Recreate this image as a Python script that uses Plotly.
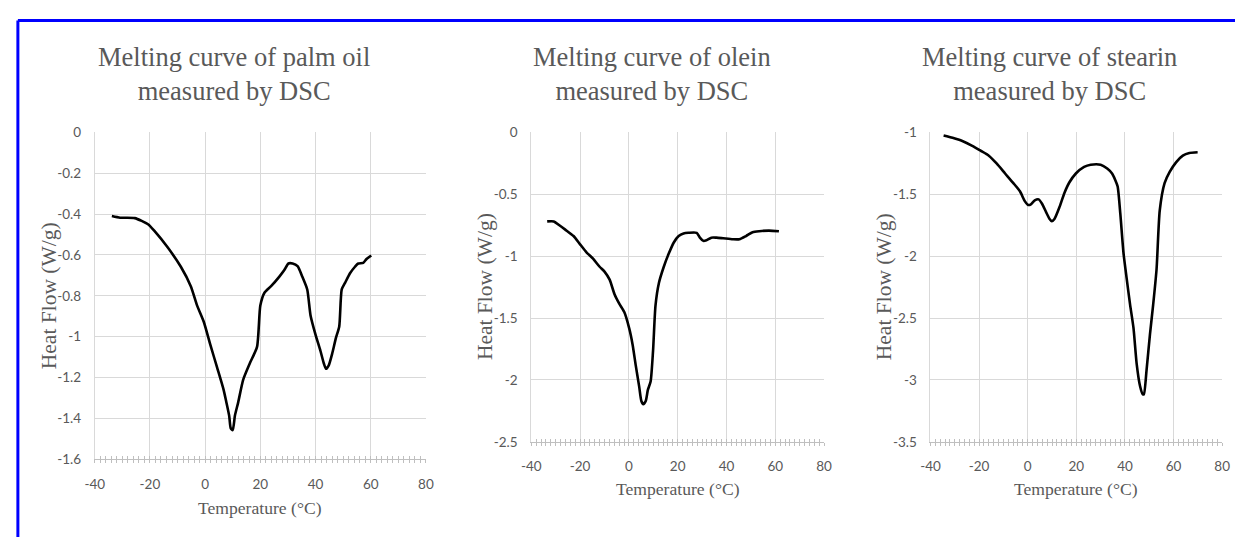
import plotly.graph_objects as go

# ---------------- data ----------------
palm_temp = [-33.8, -30.8, -25.5, -20.7, -18.3, -13.6, -8.8, -5.2, -2.9, -0.5, 1.9, 4.3, 6.7, 7.6, 8.7, 9.3,
             10.0, 10.8, 12.0, 13.8, 16.2, 18.8, 20.0, 21.5, 23.9, 26.9, 28.7, 30.2, 31.7, 33.5, 35.2, 37.0,
             38.2, 40.0, 41.8, 43.0, 43.8, 44.8, 46.0, 47.4, 48.6, 49.5, 50.7, 52.5, 54.3, 55.5, 57.3, 58.5, 60.2]
palm_flow = [-0.41, -0.418, -0.42, -0.45, -0.484, -0.563, -0.658, -0.753, -0.848, -0.927, -1.04, -1.149,
             -1.26, -1.315, -1.386, -1.449, -1.457, -1.386, -1.32, -1.21, -1.13, -1.05, -0.848, -0.785,
             -0.753, -0.706, -0.674, -0.642, -0.642, -0.655, -0.706, -0.769, -0.896, -0.99, -1.07, -1.13,
             -1.157, -1.14, -1.085, -1.006, -0.95, -0.769, -0.737, -0.69, -0.658, -0.642, -0.639, -0.62, -0.603]

olein_temp = [-33.5, -30.8, -28.8, -26.1, -22.7, -20.1, -17.4, -14.7, -12.0, -10.0, -7.9, -5.9, -3.9, -1.9,
              0.1, 1.5, 2.8, 4.2, 5.1, 5.9, 6.9, 7.8, 8.9, 9.9, 10.9, 12.3, 14.3, 16.3, 18.4, 20.4, 22.4,
              24.4, 27.8, 29.1, 30.5, 31.8, 33.8, 35.9, 38.6, 42.6, 45.3, 48.0, 50.7, 53.4, 57.4, 61.5]
olein_flow = [-0.72, -0.72, -0.747, -0.786, -0.838, -0.903, -0.969, -1.021, -1.086, -1.125, -1.19, -1.308,
              -1.386, -1.452, -1.582, -1.713, -1.882, -2.052, -2.17, -2.196, -2.17, -2.078, -2.013, -1.765,
              -1.399, -1.217, -1.086, -0.982, -0.89, -0.838, -0.817, -0.812, -0.812, -0.851, -0.877,
              -0.872, -0.851, -0.851, -0.856, -0.864, -0.864, -0.838, -0.807, -0.799, -0.794, -0.799]

stearin_temp = [-34.6, -30.9, -26.9, -22.8, -19.4, -16.0, -12.7, -9.3, -5.9, -3.2, -1.2, 0.2, 1.3, 2.9, 4.5,
                5.9, 7.6, 9.0, 9.9, 11.0, 13.0, 15.1, 17.1, 19.8, 23.2, 25.9, 30.0, 32.7, 34.7, 36.0, 37.0,
                38.1, 39.4, 40.7, 42.1, 43.5, 44.8, 46.2, 47.3, 47.8, 48.9, 50.3, 51.6, 53.0, 54.3, 56.3,
                58.4, 61.1, 63.8, 66.5, 69.9]
stearin_flow = [-1.026, -1.045, -1.071, -1.11, -1.149, -1.189, -1.254, -1.333, -1.411, -1.477, -1.556,
                -1.587, -1.582, -1.55, -1.542, -1.577, -1.647, -1.70, -1.718, -1.70, -1.608, -1.49, -1.406,
                -1.333, -1.28, -1.262, -1.262, -1.293, -1.333, -1.385, -1.438, -1.66, -1.975, -2.18, -2.39,
                -2.578, -2.866, -3.049, -3.115, -3.115, -2.918, -2.63, -2.394, -2.106, -1.634, -1.411,
                -1.32, -1.241, -1.189, -1.168, -1.162]

titles = ["Melting curve of palm oil<br>measured by DSC",
          "Melting curve of olein<br>measured by DSC",
          "Melting curve of stearin<br>measured by DSC"]
x_ticks = [-40, -20, 0, 20, 40, 60, 80]
x_ticktext = ["-40", "-20", "0", "20", "40", "60", "80"]
palm_yticks = [0, -0.2, -0.4, -0.6, -0.8, -1, -1.2, -1.4, -1.6]
palm_ytext = ["0", "-0.2", "-0.4", "-0.6", "-0.8", "-1", "-1.2", "-1.4", "-1.6"]
olein_yticks = [0, -0.5, -1, -1.5, -2, -2.5]
olein_ytext = ["0", "-0.5", "-1", "-1.5", "-2", "-2.5"]
stearin_yticks = [-1, -1.5, -2, -2.5, -3, -3.5]
stearin_ytext = ["-1", "-1.5", "-2", "-2.5", "-3", "-3.5"]
x_title = "Temperature (°C)"
y_title = "Heat Flow (W/g)"

# ---------------- layout geometry ----------------
W, H = 1243, 545
panels = [
    dict(x=palm_temp, y=palm_flow, px=(86, 422), py=(128, 465), yt=palm_yticks, ytt=palm_ytext,
         yr=[-1.6, 0], tx=227, ytx=39, xty=515),
    dict(x=olein_temp, y=olein_flow, px=(529, 826), py=(128, 447), yt=olein_yticks, ytt=olein_ytext,
         yr=[-2.5, 0], tx=651, ytx=482, xty=496),
    dict(x=stearin_temp, y=stearin_flow, px=(934, 1230), py=(128, 447), yt=stearin_yticks, ytt=stearin_ytext,
         yr=[-3.5, -1], tx=1055, ytx=887, xty=496),
]

GRID = "#d9d9d9"
TICKC = "#bfbfbf"
TXT = "#595959"
SERIF = "Liberation Serif, Times New Roman, serif"
SANS = "Lato, Liberation Sans, sans-serif"

fig = go.Figure()
layout = dict(width=W, height=H, margin=dict(l=0, r=0, t=0, b=0),
              paper_bgcolor="white", plot_bgcolor="white", showlegend=False)
annotations = []

for i, p in enumerate(panels):
    n = i + 1
    xa = "xaxis" if n == 1 else f"xaxis{n}"
    ya = "yaxis" if n == 1 else f"yaxis{n}"
    xr = "x" if n == 1 else f"x{n}"
    yr = "y" if n == 1 else f"y{n}"
    ov = 3 + n  # overlay axis id
    fig.add_trace(go.Scatter(x=p["x"], y=p["y"], mode="lines", xaxis=xr, yaxis=yr,
                             line=dict(color="black", width=2.6, shape="spline", smoothing=0.6),
                             hoverinfo="skip"))
    # empty trace to register overlay x-axis for inward tick marks
    fig.add_trace(go.Scatter(x=[], y=[], xaxis=f"x{ov}", yaxis=yr, hoverinfo="skip"))
    xdom = [p["px"][0] / W, p["px"][1] / W]
    ydom = [1 - p["py"][1] / H, 1 - p["py"][0] / H]
    layout[xa] = dict(domain=xdom, range=[-40, 80], anchor=yr, tickvals=x_ticks, ticktext=x_ticktext,
                      showgrid=True, gridcolor=GRID, gridwidth=1, zeroline=False,
                      showline=True, linecolor=TICKC, linewidth=1, mirror=False,
                      ticks="outside", ticklen=3, tickcolor=TICKC, tickwidth=1,
                      ticklabelstandoff=9,
                      minor=dict(dtick=2, ticks="outside", ticklen=3, tickcolor=TICKC, tickwidth=1,
                                 showgrid=False),
                      tickfont=dict(family=SANS, size=13.5, color=TXT), fixedrange=True)
    layout[f"xaxis{ov}"] = dict(overlaying=xr, anchor=yr, range=[-40, 80], tickvals=x_ticks,
                                showticklabels=False, showgrid=False, zeroline=False, showline=False,
                                ticks="inside", ticklen=3, tickcolor=TICKC, tickwidth=1,
                                minor=dict(dtick=2, ticks="inside", ticklen=3, tickcolor=TICKC,
                                           tickwidth=1, showgrid=False), fixedrange=True)
    layout[ya] = dict(domain=ydom, range=p["yr"], anchor=xr, tickvals=p["yt"], ticktext=p["ytt"],
                      showgrid=True, gridcolor=GRID, gridwidth=1, zeroline=False,
                      showline=True, linecolor=GRID, linewidth=1, ticks="",
                      ticklabelstandoff=10,
                      tickfont=dict(family=SANS, size=13.5, color=TXT), fixedrange=True)
    annotations.append(dict(text=titles[i], x=p["tx"] / W, y=1 - 68 / H, xref="paper", yref="paper",
                            xanchor="center", yanchor="middle", showarrow=False,
                            font=dict(family=SERIF, size=26.5, color=TXT)))
    annotations.append(dict(text=y_title, x=p["ytx"] / W, y=1 - ((p["py"][0] + p["py"][1]) / 2) / H,
                            xref="paper", yref="paper", xanchor="center", yanchor="middle",
                            textangle=-90, showarrow=False,
                            font=dict(family=SERIF, size=21.5, color=TXT)))
    annotations.append(dict(text=x_title, x=((p["px"][0] + p["px"][1]) / 2) / W, y=1 - p["xty"] / H,
                            xref="paper", yref="paper",
                            xanchor="center", yanchor="middle", showarrow=False,
                            font=dict(family=SERIF, size=17.6, color=TXT)))

layout["annotations"] = annotations
layout["shapes"] = [
    dict(type="line", xref="paper", yref="paper", x0=8 / W, x1=1, y0=1 - 13 / H, y1=1 - 13 / H,
         line=dict(color="#0000ff", width=3)),
    dict(type="line", xref="paper", yref="paper", x0=8 / W, x1=8 / W, y0=0, y1=1 - 13 / H,
         line=dict(color="#0000ff", width=3)),
]
fig.update_layout(**layout)
fig.write_html("out.html", config={"displayModeBar": False},
               post_script="document.body.style.margin='0px';")
